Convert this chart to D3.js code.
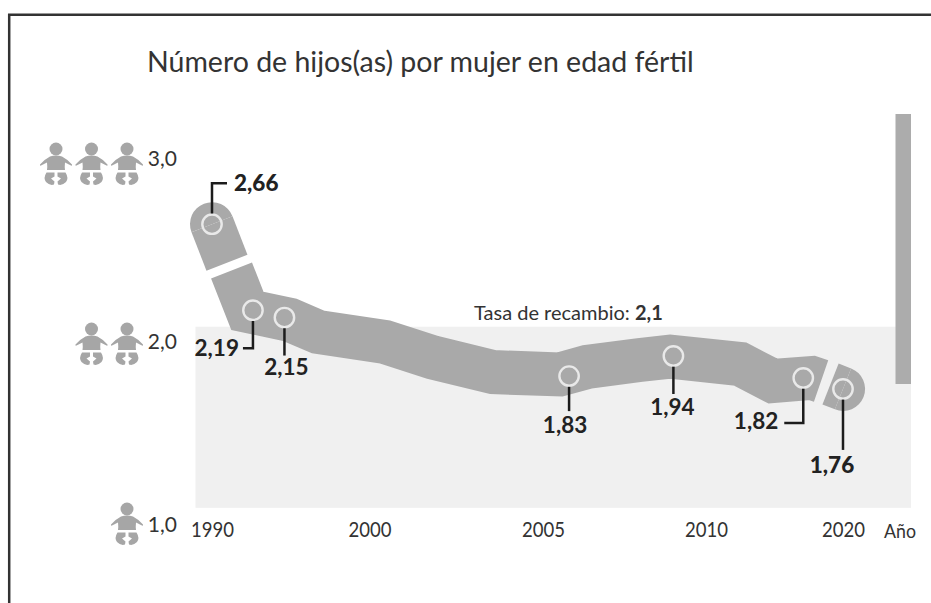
<!DOCTYPE html>
<html>
  <head>
    <meta charset=utf-8>
    <title>Número de hijos(as) por mujer</title>
    <style>
      html, body{ margin:0; padding:0; background:#fff; }
      svg{ display:block; }
      text{ font-family:Lato, "Open Sans", sans-serif; fill:#333; }
      .axis path{ display:none; }
      .axis text{ font-family:Lato, "Open Sans", sans-serif; font-size:21px; fill:#333; }
      .value{ font-size:22.5px; font-weight:700; fill:#222; }
    </style>
  </head>
  <body>
    <script src="https://d3js.org/d3.v7.min.js"></script>
    <script>
      // points (years are estimates, the axis is not regular)
      var years = [1990, 1992.6, 1994.6, 2005.8, 2009, 2017.1, 2020];
      var rates = [2.66, 2.19, 2.15, 1.83, 1.94, 1.82, 1.76];
      var rateLabels = ["2,66", "2,19", "2,15", "1,83", "1,94", "1,82", "1,76"];

      // the thick band, as three pieces of centre line [year, rate]
      var bandFirst = [[1990, 2.66], [1990.95, 2.45]];
      var bandMiddle = [[1991.24, 2.407], [1992.25, 2.186], [1994.95, 2.137], [1996.73, 2.071],
                        [2000.45, 2.016], [2001.83, 1.932], [2003.56, 1.852], [2005.52, 1.839],
                        [2006.35, 1.88], [2007.97, 1.918], [2008.9, 1.937], [2012.48, 1.896],
                        [2014.89, 1.803], [2017.74, 1.82], [2018.4, 1.803]];
      var bandLast = [[2019.09, 1.787], [2020, 1.76]];

      var xTicks = [1990, 2000, 2005, 2010, 2020];
      var yTicks = [1, 2, 3];
      var babies = [1, 2, 3];
      var replacement = 2.1;
      var shadeBottom = 1.11;

      // leader lines, pixels from the ring: [drop, then sideways], label offset from the corner
      var leaders = [
        {dy:-41, dx:15, lx:7, ly:0, anchor:"start"},
        {dy:38, dx:-10, lx:-4, ly:0, anchor:"end"},
        {dy:38, dx:0, lx:2, ly:12, anchor:"middle"},
        {dy:35, dx:0, lx:-4, ly:14, anchor:"middle"},
        {dy:38, dx:0, lx:-1, ly:13, anchor:"middle"},
        {dy:45, dx:-19, lx:-6, ly:-2, anchor:"end"},
        {dy:61, dx:0, lx:-11, ly:15, anchor:"middle"}
      ];

      var width = 931, height = 603;
      var bandWidth = 44;

      var svg = d3.select("body").append("svg")
        .attr("width", width)
        .attr("height", height);

      var defs = svg.append("defs");
      defs.append("filter").attr("id", "soft")
        .append("feGaussianBlur").attr("stdDeviation", 0.6);

      var x = d3.scaleLinear().domain(xTicks).range([212, 369.5, 543, 706, 843]);
      var y = d3.scaleLinear().domain([1, 3]).range([528, 162]);
      var babyY = d3.scaleLinear().domain([1, 3]).range([509, 149]);

      // frame, open on the right and at the bottom
      svg.append("path")
        .attr("d", "M9.2,603V14.7H931")
        .attr("fill", "none")
        .attr("stroke", "#333")
        .attr("stroke-width", 2.5);

      svg.append("text")
        .attr("x", 147)
        .attr("y", 72)
        .style("font-size", "28.5px")
        .text("Número de hijos(as) por mujer en edad fértil");

      // shaded zone under the replacement rate
      svg.append("rect")
        .attr("x", 195.5)
        .attr("y", y(replacement))
        .attr("width", 715.5)
        .attr("height", y(shadeBottom) - y(replacement))
        .attr("fill", "#f0f0f0");

      // cropped bar on the right side
      svg.append("rect")
        .attr("x", 895.5)
        .attr("y", 114)
        .attr("width", 15.5)
        .attr("height", 270)
        .attr("fill", "#acacac");

      var line = d3.line()
        .x(function(d) { return x(d[0]); })
        .y(function(d) { return y(d[1]); });

      svg.selectAll(".band")
        .data([bandFirst, bandMiddle, bandLast])
        .enter().append("path")
          .attr("class", "band")
          .attr("d", line)
          .attr("fill", "none")
          .attr("stroke", "#a9a9a9")
          .attr("stroke-width", bandWidth)
          .attr("stroke-linejoin", "miter")
          .attr("stroke-miterlimit", 10);

      // round ends of the band: half discs, so the cut side stays straight
      var halfDisc = d3.arc().innerRadius(0).outerRadius(bandWidth / 2);

      svg.selectAll(".bandEnd")
        .data([[bandFirst[0], bandFirst[1]], [bandLast[1], bandLast[0]]])
        .enter().append("path")
          .attr("class", "bandEnd")
          .attr("transform", function(d) { return "translate(" + x(d[0][0]) + "," + y(d[0][1]) + ")"; })
          .attr("d", function(d) {
            var a = Math.atan2(x(d[0][0]) - x(d[1][0]), y(d[1][1]) - y(d[0][1]));
            return halfDisc({startAngle: a - Math.PI / 2, endAngle: a + Math.PI / 2});
          })
          .attr("fill", "#a9a9a9");

      var ringR = 9.7;

      svg.selectAll(".ring")
        .data(years)
        .enter().append("circle")
          .attr("class", "ring")
          .attr("cx", function(d) { return x(d); })
          .attr("cy", function(d, i) { return y(rates[i]); })
          .attr("r", ringR)
          .attr("fill", "none")
          .attr("stroke", "#e9e9e9")
          .attr("stroke-width", 2.4);

      years.forEach(function(year, i) {
        var l = leaders[i];
        var px = x(year), py = y(rates[i]);
        var startY = py + (l.dy < 0 ? -ringR - 1 : ringR + 1);
        var cornerY = py + l.dy;

        svg.append("path")
          .attr("d", d3.line()([[px, startY], [px, cornerY], [px + l.dx, cornerY]]))
          .attr("fill", "none")
          .attr("stroke", "#1c1c1c")
          .attr("stroke-width", 2.5);

        svg.append("text")
          .attr("class", "value")
          .attr("x", px + l.dx + l.lx)
          .attr("y", cornerY + l.ly)
          .attr("dy", "0.35em")
          .attr("text-anchor", l.anchor)
          .style("font-weight", (i === 0 || i === 6) ? 900 : 700)
          .text(rateLabels[i]);
      });

      var rateText = svg.append("text")
        .attr("x", 474)
        .attr("y", 320)
        .style("font-size", "20px");
      rateText.append("tspan").text("Tasa de recambio: ");
      rateText.append("tspan").style("font-weight", 700).text("2,1");

      var xAxis = d3.axisBottom(x)
        .tickValues(xTicks)
        .tickFormat(d3.format("d"))
        .tickSize(0)
        .tickPadding(0);
      svg.append("g").attr("class", "axis")
        .attr("transform", "translate(0,522)")
        .call(xAxis)
        .selectAll("text")
          .attr("textLength", 43)
          .attr("lengthAdjust", "spacingAndGlyphs");

      svg.append("text")
        .attr("x", 884)
        .attr("y", 538)
        .attr("textLength", 32)
        .attr("lengthAdjust", "spacingAndGlyphs")
        .style("font-size", "20px")
        .text("Año");

      var yAxis = d3.axisLeft(y)
        .tickValues(yTicks)
        .tickFormat(function(d) { return d + ",0"; })
        .tickSize(0)
        .tickPadding(3);
      svg.append("g").attr("class", "axis")
        .attr("transform", "translate(180,-3)")
        .call(yAxis);

      // baby icons, one per child on each rate level
      var babyPath = "M-6,7.5Q0,5.5 6,7.5Q11,10 16,15.5Q16.5,17 15,16.5L9,13.5Q8.5,18 9,21H-9Q-8.5,18 -9,13.5L-15,16.5Q-16.5,17 -16,15.5Q-11,10 -6,7.5Z" +
        "M-1.5,23.5H-9.5Q-13,29 -10,33Q-6,37 -2,35.5L-1.5,32.5L-5,29.5L-1.5,27.5Z" +
        "M1.5,23.5H9.5Q13,29 10,33Q6,37 2,35.5L1.5,32.5L5,29.5L1.5,27.5Z";

      var babyRows = svg.selectAll(".babyRow")
        .data(babies)
        .enter().append("g")
          .attr("class", "babyRow")
          .attr("filter", "url(#soft)")
          .attr("transform", function(d) { return "translate(0," + babyY(d) + ")"; });

      babyRows.selectAll("g")
        .data(function(d) { return d3.range(d); })
        .enter().append("g")
          .attr("transform", function(d) { return "translate(" + (127 - d * 35.5) + ",0)"; })
          .each(function() {
            d3.select(this).append("circle").attr("r", 6.5).attr("fill", "#a6a6a6");
            d3.select(this).append("path").attr("d", babyPath).attr("fill", "#a6a6a6");
          });
    </script>
  </body>
</html>
